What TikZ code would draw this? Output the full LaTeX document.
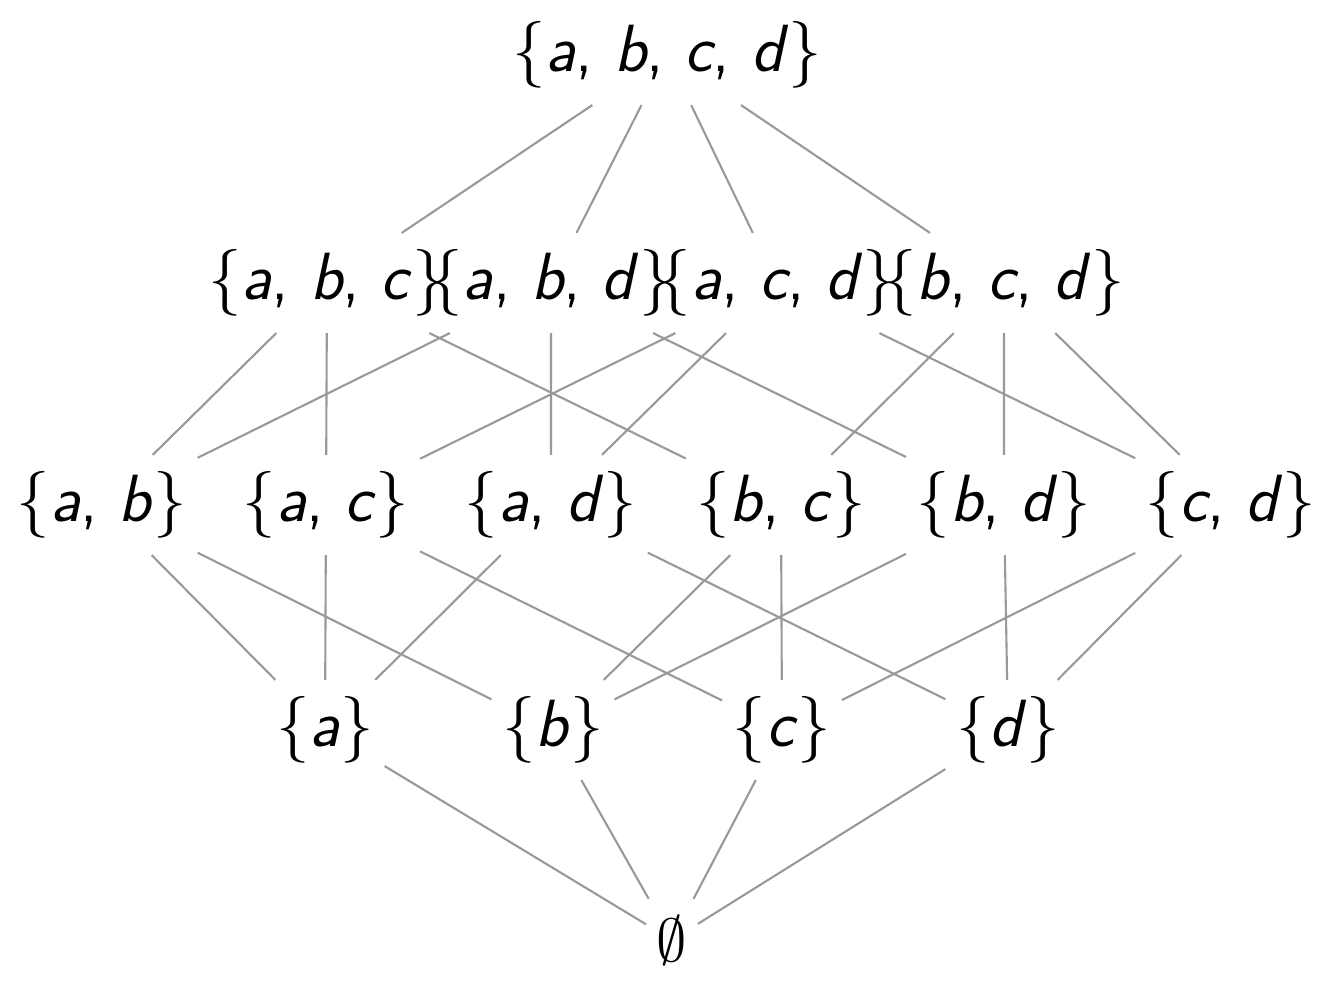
\documentclass[tikz,border=0pt]{standalone}
\usepackage{fontspec}

\tikzset{
    mnozina/.style={font=\sffamily\fontsize{19}{22}\selectfont, inner xsep=0.1cm, inner ysep=0.16cm},
    hrana/.style={draw=gray!80, line width=0.6pt}
}
\newcommand{\mn}[1]{\{#1\}}
\newcommand{\pr}[1]{\textit{#1}}

\begin{document}
\begin{tikzpicture}
            \useasboundingbox (0,0) rectangle (13.33,-10.02);

            % celá množina
            \node[mnozina] (abcd) at (6.67,-0.55) {\mn{\pr{a}, \pr{b}, \pr{c}, \pr{d}}};

            % trojice
            \node[mnozina] (abc) at (3.27,-2.83) {\mn{\pr{a}, \pr{b}, \pr{c}}};
            \node[mnozina] (abd) at (5.51,-2.83) {\mn{\pr{a}, \pr{b}, \pr{d}}};
            \node[mnozina] (acd) at (7.77,-2.83) {\mn{\pr{a}, \pr{c}, \pr{d}}};
            \node[mnozina] (bcd) at (10.04,-2.83) {\mn{\pr{b}, \pr{c}, \pr{d}}};

            % dvojice
            \node[mnozina] (ab) at (1.02,-5.05) {\mn{\pr{a}, \pr{b}}};
            \node[mnozina] (ac) at (3.26,-5.05) {\mn{\pr{a}, \pr{c}}};
            \node[mnozina] (ad) at (5.51,-5.05) {\mn{\pr{a}, \pr{d}}};
            \node[mnozina] (bc) at (7.81,-5.05) {\mn{\pr{b}, \pr{c}}};
            \node[mnozina] (bd) at (10.04,-5.05) {\mn{\pr{b}, \pr{d}}};
            \node[mnozina] (cd) at (12.31,-5.05) {\mn{\pr{c}, \pr{d}}};

            % prvky
            \node[mnozina] (a) at (3.25,-7.30) {\mn{\pr{a}}};
            \node[mnozina] (b) at (5.53,-7.30) {\mn{\pr{b}}};
            \node[mnozina] (c) at (7.82,-7.30) {\mn{\pr{c}}};
            \node[mnozina] (d) at (10.08,-7.30) {\mn{\pr{d}}};

            % prázdná množina
            \node[mnozina] (e) at (6.72,-9.40) {$\emptyset$};

            % hrany shora
            \draw[hrana] (abcd) -- (abc) (abcd) -- (abd) (abcd) -- (acd) (abcd) -- (bcd);

            % trojice -- dvojice
            \draw[hrana] (abc) -- (ab) (abc) -- (ac) (abc) -- (bc);
            \draw[hrana] (abd) -- (ab) (abd) -- (ad) (abd) -- (bd);
            \draw[hrana] (acd) -- (ac) (acd) -- (ad) (acd) -- (cd);
            \draw[hrana] (bcd) -- (bc) (bcd) -- (bd) (bcd) -- (cd);

            % dvojice -- prvky
            \draw[hrana] (ab) -- (a) (ab) -- (b);
            \draw[hrana] (ac) -- (a) (ac) -- (c);
            \draw[hrana] (ad) -- (a) (ad) -- (d);
            \draw[hrana] (bc) -- (b) (bc) -- (c);
            \draw[hrana] (bd) -- (b) (bd) -- (d);
            \draw[hrana] (cd) -- (c) (cd) -- (d);

            % prvky -- prázdná
            \draw[hrana] (a) -- (e) (b) -- (e) (c) -- (e) (d) -- (e);
        \end{tikzpicture}
\end{document}
